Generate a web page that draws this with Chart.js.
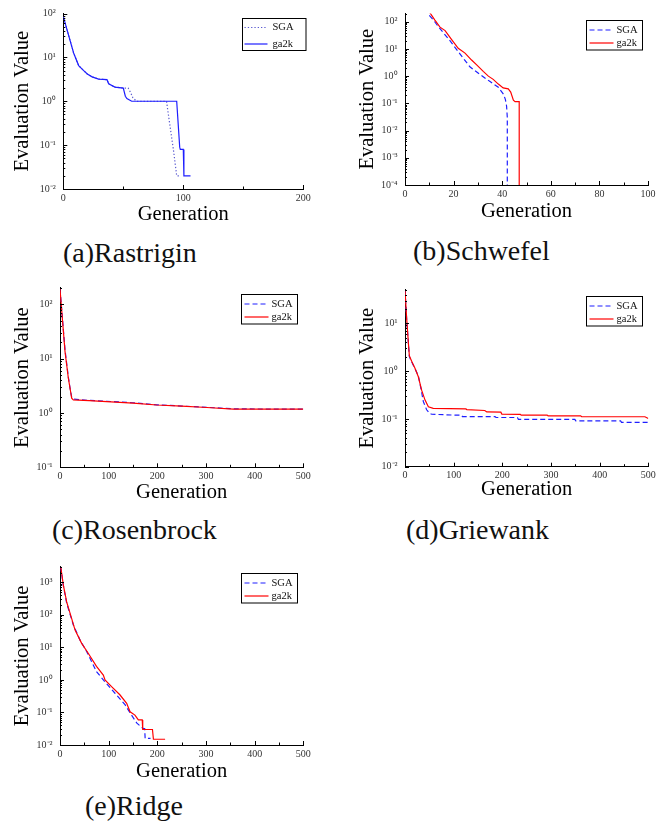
<!DOCTYPE html>
<html>
<head>
<meta charset="utf-8">
<script src="https://cdn.jsdelivr.net/npm/chart.js@4.4.0/dist/chart.umd.min.js"></script>
<style>
  html, body { margin: 0; padding: 0; background: #fff; }
  #page { position: relative; width: 667px; height: 823px; overflow: hidden; }
  #page canvas { position: absolute; }
  .caption { position: absolute; font-family: 'Liberation Serif', serif; font-size: 28px; line-height: 28px; color: #111; white-space: nowrap; }
</style>
</head>
<body>
<div id="page">
  <canvas id="c-rastrigin" width="330" height="230" style="left:0;top:0"></canvas>
  <canvas id="c-schwefel" width="322" height="230" style="left:345px;top:0"></canvas>
  <canvas id="c-rosenbrock" width="330" height="240" style="left:0;top:270px"></canvas>
  <canvas id="c-griewank" width="322" height="240" style="left:345px;top:270px"></canvas>
  <canvas id="c-ridge" width="330" height="240" style="left:0;top:550px"></canvas>
  <div class="caption" style="left:63px;top:239px">(a)Rastrigin</div>
  <div class="caption" style="left:413px;top:237px">(b)Schwefel</div>
  <div class="caption" style="left:52px;top:516px">(c)Rosenbrock</div>
  <div class="caption" style="left:406px;top:516px">(d)Griewank</div>
  <div class="caption" style="left:85px;top:792px">(e)Ridge</div>
</div>
<script>
// ---- data (generation, evaluation value) ----
const rastSgaGen  = [0, 8.6, 12.8, 17, 20, 24, 29.4, 36.4, 37.8, 43, 50, 54, 56, 58, 61, 86, 92, 94.5, 96.5];
const rastSgaVal  = [85, 12.6, 6.5, 5.0, 4.2, 3.6, 3.2, 3.1, 2.5, 2.1, 2.0, 2.0, 1.6, 1.2, 1.0, 1.0, 0.07, 0.02, 0.02];
const rastGa2kGen = [0, 8.6, 12.8, 17, 20, 24, 29.4, 36.4, 37.8, 43, 50, 51.7, 53, 57, 94.5, 97, 97.5, 100, 100.5, 106];
const rastGa2kVal = [85, 12.6, 6.5, 5.0, 4.2, 3.6, 3.2, 3.1, 2.5, 2.1, 2.0, 1.3, 1.15, 1.0, 1.0, 0.09, 0.08, 0.08, 0.02, 0.02];

const schwSgaGen  = [10, 11.7, 13.7, 18.5, 22.6, 26.7, 30.9, 35, 38.4, 40.5, 41.3, 41.8, 42.1, 42.1];
const schwSgaVal  = [170, 115, 66, 20, 6.6, 2.2, 1.15, 0.63, 0.39, 0.22, 0.14, 0.08, 0.03, 1e-6];
const schwGa2kGen = [10, 12.3, 14.4, 16.5, 19.2, 21.9, 24.7, 27.4, 29.5, 32.2, 34.3, 36.3, 38.4, 40.4, 42.5, 43.5, 44.6, 45.3, 47, 47];
const schwGa2kVal = [230, 115, 63, 47, 22, 10.5, 7.0, 3.9, 2.6, 1.5, 1.0, 0.76, 0.51, 0.37, 0.34, 0.26, 0.13, 0.115, 0.115, 1e-6];

const rosenSgaGen  = [0, 4.8, 10.3, 17.1, 20.5, 24, 27.4, 60, 96, 150, 199, 250, 302, 356, 420, 500];
const rosenSgaVal  = [190, 58, 14.5, 4.6, 2.9, 1.95, 1.80, 1.70, 1.64, 1.54, 1.41, 1.34, 1.27, 1.19, 1.18, 1.18];
const rosenGa2kGen = [0, 4.8, 10.3, 17.1, 24, 27.4, 60, 96, 150, 199, 250, 302, 356, 420, 500];
const rosenGa2kVal = [190, 55, 13.5, 4.4, 1.87, 1.74, 1.68, 1.62, 1.52, 1.40, 1.33, 1.26, 1.18, 1.18, 1.18];

const griewSgaGen  = [0, 3.4, 6.8, 8.9, 13.7, 20.5, 27.4, 33, 37.7, 44.5, 51, 55, 102, 116, 118, 185, 187, 231, 233, 349, 351, 443, 445, 500];
const griewSgaVal  = [48, 12.2, 4.0, 2.0, 1.55, 1.12, 0.80, 0.42, 0.23, 0.155, 0.13, 0.125, 0.12, 0.12, 0.112, 0.112, 0.107, 0.107, 0.098, 0.098, 0.091, 0.091, 0.085, 0.085];
const griewGa2kGen = [0, 3.4, 6.8, 8.9, 13.7, 20.5, 27.4, 34.2, 41, 48, 58, 125, 127, 164, 168, 197, 199, 237, 239, 292, 294, 361, 363, 493, 500];
const griewGa2kVal = [50, 12.7, 4.1, 2.1, 1.6, 1.15, 0.76, 0.40, 0.25, 0.18, 0.166, 0.162, 0.157, 0.150, 0.140, 0.138, 0.126, 0.124, 0.120, 0.120, 0.116, 0.116, 0.111, 0.111, 0.102];

const ridgeSgaGen  = [0, 2, 6.8, 13.7, 27.4, 41, 55, 75, 92.5, 113, 134, 147, 158, 171, 174, 175, 186];
const ridgeSgaVal  = [3000, 2600, 800, 230, 49, 17, 7.4, 1.8, 0.87, 0.39, 0.17, 0.083, 0.047, 0.032, 0.032, 0.016, 0.016];
const ridgeGa2kGen = [0, 2, 6.8, 13.7, 24, 31, 44.5, 58, 75, 89, 92.5, 106, 123, 137, 144, 154, 161, 169, 170, 190, 192, 216];
const ridgeGa2kVal = [3000, 2700, 830, 250, 77, 34, 13.3, 6.6, 2.6, 1.41, 1.0, 0.62, 0.35, 0.19, 0.105, 0.083, 0.059, 0.059, 0.030, 0.030, 0.015, 0.015];

const seriesLabels = ['SGA', 'ga2k'];

const SERIF = "'Liberation Serif', 'Times New Roman', serif";
const SUP = { '-': '\u207B', '0': '\u2070', '1': '\u00B9', '2': '\u00B2', '3': '\u00B3', '4': '\u2074',
              '5': '\u2075', '6': '\u2076', '7': '\u2077', '8': '\u2078', '9': '\u2079' };

function powLabel(v) {
    const e = Math.log10(v);
    if (Math.abs(e - Math.round(e)) > 1e-6) {
        return '';
    }
    return '10' + String(Math.round(e)).split('').map(c => SUP[c]).join('');
}

function points(gens, vals) {
    return gens.map((g, i) => ({ x: g, y: vals[i] }));
}

// small inward tick marks on both axes, placed through the chart's own scales
const inwardTicks = {
    id: 'inwardTicks',
    afterDatasetsDraw(chart) {
        const { ctx, chartArea: a, scales: { x, y } } = chart;
        ctx.save();
        ctx.strokeStyle = '#000';
        ctx.lineWidth = 1;
        ctx.beginPath();
        const step = x.options.ticks.stepSize / 2;
        for (let i = 0; x.min + i * step <= x.max + 1e-9; i++) {
            const px = Math.round(x.getPixelForValue(x.min + i * step)) + 0.5;
            const len = i % 2 === 0 ? 4 : 2.5;
            ctx.moveTo(px, a.bottom);
            ctx.lineTo(px, a.bottom - len);
        }
        for (let e = Math.floor(Math.log10(y.min)); e <= Math.ceil(Math.log10(y.max)); e++) {
            for (let k = 1; k < 10; k++) {
                const v = k * Math.pow(10, e);
                if (v < y.min * 0.999 || v > y.max * 1.001) continue;
                const py = Math.round(y.getPixelForValue(v)) + 0.5;
                ctx.moveTo(a.left, py);
                ctx.lineTo(a.left + (k === 1 ? 4 : 2), py);
            }
        }
        ctx.stroke();
        ctx.restore();
    }
};

// boxed legend inside the top-right corner of the plot
const boxLegend = {
    id: 'boxLegend',
    afterDraw(chart, args, opts) {
        const { ctx, chartArea: a } = chart;
        const x0 = Math.round(a.right - opts.right - opts.width) + 0.5;
        const y0 = Math.round(a.top + opts.top) + 0.5;
        ctx.save();
        ctx.fillStyle = '#fff';
        ctx.fillRect(x0, y0, opts.width, opts.height);
        ctx.strokeStyle = '#000';
        ctx.lineWidth = 1;
        ctx.strokeRect(x0, y0, opts.width, opts.height);
        ctx.font = '10.5px ' + SERIF;
        ctx.textBaseline = 'middle';
        chart.data.datasets.forEach((ds, i) => {
            const ry = y0 + opts.rows[i];
            ctx.beginPath();
            ctx.strokeStyle = ds.borderColor;
            ctx.lineWidth = ds.borderWidth;
            ctx.setLineDash(ds.borderDash || []);
            ctx.moveTo(x0 + opts.lineFrom, ry);
            ctx.lineTo(x0 + opts.lineTo, ry);
            ctx.stroke();
            ctx.setLineDash([]);
            ctx.fillStyle = '#111';
            ctx.fillText(ds.label, x0 + opts.textX, ry);
        });
        ctx.restore();
    }
};

const LEGEND_STD = { width: 56, height: 29.5, right: 6.5, top: 6, rows: [9.5, 22.5], lineFrom: 3, lineTo: 27, textX: 30 };

// g: canvas box (cl, ct, cw, ch) and plot area (l, t, r, b) in page pixels
function makeChart(id, g, xMax, xStep, yMin, yMax, datasets, legend, xTitleY) {
    const yTitleX = g.cl + 22.5;
    return new Chart(document.getElementById(id), {
        type: 'line',
        data: { datasets: datasets },
        options: {
            responsive: false,
            animation: false,
            layout: { padding: { left: 0, top: g.t - g.ct, right: g.cl + g.cw - g.r, bottom: 0 } },
            elements: { point: { radius: 0 }, line: { tension: 0 } },
            plugins: { legend: { display: false }, tooltip: { enabled: false }, boxLegend: legend },
            scales: {
                x: {
                    type: 'linear', min: 0, max: xMax,
                    grid: { display: false, drawTicks: false },
                    border: { display: true, color: '#000', width: 1 },
                    ticks: { stepSize: xStep, autoSkip: false, maxRotation: 0, padding: 3, color: '#333',
                             font: { family: SERIF, size: 10 }, callback: v => String(v) },
                    title: { display: true, text: 'Generation', color: '#000',
                             font: { family: SERIF, size: 20.5, lineHeight: 1 },
                             padding: { top: 0, bottom: g.ct + g.ch - xTitleY - 10.25 } },
                    afterFit: s => { s.height = g.ct + g.ch - g.b; }
                },
                y: {
                    type: 'logarithmic', min: yMin, max: yMax,
                    grid: { display: false, drawTicks: false },
                    border: { display: true, color: '#000', width: 1 },
                    ticks: { autoSkip: false, padding: 7.5, color: '#333',
                             font: { family: SERIF, size: 10 }, callback: v => powLabel(v) },
                    title: { display: true, text: 'Evaluation Value', color: '#000',
                             font: { family: SERIF, size: 20.5, lineHeight: 1 },
                             padding: { top: yTitleX - g.cl - 10.25, bottom: 0 } },
                    afterFit: s => { s.width = g.l - g.cl; }
                }
            }
        },
        plugins: [inwardTicks, boxLegend]
    });
}

function sgaSet(gens, vals, color, dash) {
    return { label: seriesLabels[0], data: points(gens, vals), borderColor: color, borderWidth: 1.2, borderDash: dash, order: 1 };
}
function ga2kSet(gens, vals, color) {
    return { label: seriesLabels[1], data: points(gens, vals), borderColor: color, borderWidth: 1.2, borderDash: [], order: 0 };
}

makeChart('c-rastrigin', { cl: 0, ct: 0, cw: 330, ch: 230, l: 63.3, t: 12, r: 303.3, b: 189 },
    200, 100, 0.01, 100,
    [sgaSet(rastSgaGen, rastSgaVal, '#5a5ad0', [1.3, 2]), ga2kSet(rastGa2kGen, rastGa2kVal, '#1e1eff')],
    { width: 63.5, height: 32, right: -2.4, top: 4, rows: [9, 25.5], lineFrom: 2, lineTo: 25, textX: 30 }, 215);

makeChart('c-schwefel', { cl: 345, ct: 0, cw: 322, ch: 230, l: 405, t: 6.5, r: 648, b: 185 },
    100, 20, 1e-4, 200,
    [sgaSet(schwSgaGen, schwSgaVal, '#1f1fff', [5, 3]), ga2kSet(schwGa2kGen, schwGa2kVal, '#ff0000')],
    LEGEND_STD, 212);

makeChart('c-rosenbrock', { cl: 0, ct: 270, cw: 330, ch: 240, l: 60, t: 287.9, r: 303.3, b: 467.3 },
    500, 100, 0.1, 200,
    [sgaSet(rosenSgaGen, rosenSgaVal, '#1f1fff', [5, 3]), ga2kSet(rosenGa2kGen, rosenGa2kVal, '#ff0000')],
    LEGEND_STD, 493);

makeChart('c-griewank', { cl: 345, ct: 270, cw: 322, ch: 240, l: 405, t: 289.9, r: 648.3, b: 466.7 },
    500, 100, 0.01, 50,
    [sgaSet(griewSgaGen, griewSgaVal, '#1f1fff', [5, 3]), ga2kSet(griewGa2kGen, griewGa2kVal, '#ff0000')],
    LEGEND_STD, 490);

makeChart('c-ridge', { cl: 0, ct: 550, cw: 330, ch: 240, l: 60, t: 566.8, r: 303.3, b: 745 },
    500, 100, 0.01, 3000,
    [sgaSet(ridgeSgaGen, ridgeSgaVal, '#1f1fff', [5, 3]), ga2kSet(ridgeGa2kGen, ridgeGa2kVal, '#ff0000')],
    LEGEND_STD, 771.5);
</script>
</body>
</html>
